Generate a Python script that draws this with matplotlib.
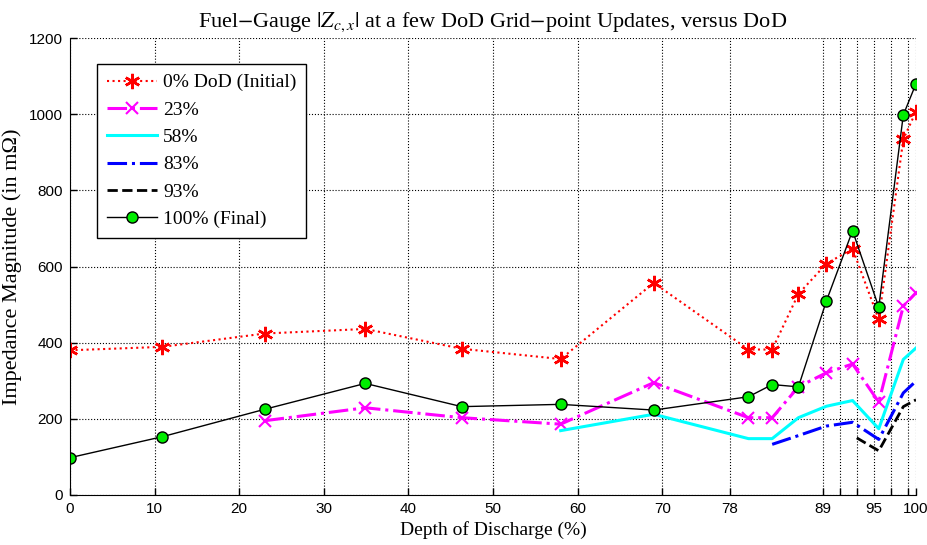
import numpy as np
import matplotlib
matplotlib.use("Agg")
import matplotlib.pyplot as plt

# DoD grid points (%)
dod = [0, 10.9, 23, 34.9, 46.3, 58, 69, 80.2, 83, 86.1, 89.4, 92.5, 95.6, 98.5, 100]

# |Z| in mOhm, each update starts at its own DoD
z_init = [380, 389, 424, 436, 384, 357, 557, 382, 382, 528, 607, 647, 461, 934, 1007]
z_23 = [195, 229, 203, 186, 295, 203, 203, 284, 321, 344, 244, 496, 531]
z_58 = [169, 212, 148, 148, 203, 233, 248, 174, 356, 386]
z_83 = [133, 156, 181, 191, 146, 268, 299]
dod_93 = [93, 95.6, 98.5, 100]
z_93 = [150, 116, 232, 250]
z_final = [98, 153, 225, 293, 232, 238, 223, 258, 290, 284, 509, 694, 493, 998, 1080]

xticks = [0, 10, 20, 30, 40, 50, 60, 70, 78, 89, 91, 93, 95, 97, 99, 100]
xticklabels = ['0', '10', '20', '30', '40', '50', '60', '70', '78', '89', '', '', '95', '', '', '100']
yticks = [0, 200, 400, 600, 800, 1000, 1200]

plt.rcParams['mathtext.fontset'] = 'stix'
serif = ['Liberation Serif', 'DejaVu Serif']
narrow = ['Liberation Sans Narrow', 'Liberation Sans', 'DejaVu Sans']

fig = plt.figure(figsize=(9.28, 5.45), dpi=100)
ax = fig.add_axes([70/928, 1-495/545, 846/928, 457/545])

ax.plot(dod, z_init, color='red', ls=':', lw=1.5, marker=(6, 2, 0), ms=11, mew=1.8,
        label='0% DoD (Initial)')
ax.plot(dod[2:], z_23, color='magenta', ls='-.', lw=2.2, marker='x', ms=8, mew=1.5,
        label='23%')
ax.plot(dod[5:], z_58, color='cyan', ls='-', lw=2.2, label='58%')
ax.plot(dod[8:], z_83, color='blue', ls='-.', lw=2.2, label='83%')
ax.plot(dod_93, z_93, color='black', ls='--', lw=2.0, label='93%')
ax.plot(dod, z_final, color='black', ls='-', lw=1.0, marker='o', ms=8,
        mfc='#00ee00', mec='black', mew=1.0, label='100% (Final)')

ax.set_xlim(0, 100)
ax.set_ylim(0, 1200)
ax.set_xticks(xticks)
ax.set_xticklabels(xticklabels)
ax.set_yticks(yticks)
for lab in ax.get_xticklabels() + ax.get_yticklabels():
    lab.set_family(narrow)
    lab.set_fontsize(11)
ax.tick_params(direction='in', length=5, width=1, pad=5)
ax.grid(True, ls=':', color='black', lw=0.8)
ax.spines['top'].set_visible(False)
ax.spines['right'].set_visible(False)

ax.set_title(r'Fuel$-$Gauge $|Z_{c,x}|$ at a few DoD Grid$-$point Updates, versus DoD',
             family=serif, fontsize=16, pad=8)
ax.set_xlabel('Depth of Discharge (%)', family=serif, fontsize=14)
ax.set_ylabel('Impedance Magnitude (in m\u03a9)', family=serif, fontsize=16, labelpad=5)

leg = ax.legend(loc='upper left', bbox_to_anchor=(0.032, 0.943), borderaxespad=0,
                prop={'family': serif, 'size': 14},
                fancybox=False, framealpha=1, edgecolor='black', handlelength=2.6,
                borderpad=0.5, labelspacing=0.5, handletextpad=0.3)
leg.get_frame().set_linewidth(1.0)

fig.savefig('out.png', dpi=100)
